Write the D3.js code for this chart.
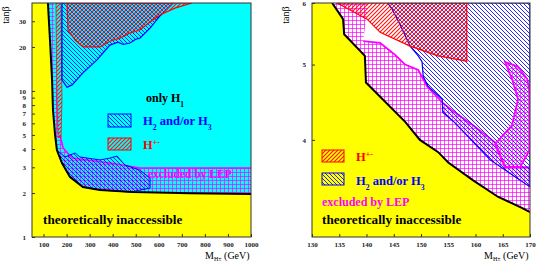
<!DOCTYPE html>
<html>
<head>
<meta charset="utf-8">
<script src="https://cdn.jsdelivr.net/npm/d3@7"></script>
<style>
  body { margin: 0; background: #fff; }
  svg { display: block; }
</style>
</head>
<body>
<svg id="chart" width="545" height="273"></svg>
<script>
// ---- left panel: (M_H+- in GeV, tan beta) pairs ----
const leftXTicks = [100, 200, 300, 400, 500, 600, 700, 800, 900, 1000];
const leftYTicks = [1, 2, 3, 4, 5, 6, 7, 8, 9, 10, 20, 30];

const leftBoundary = [[119, 40], [128, 22.3], [137, 11.9], [141, 7.4], [150, 5.0], [158, 3.94],
  [180, 3.21], [215, 2.57], [271, 2.20], [345, 2.10], [488, 2.03], [735, 1.99], [1000, 1.97]];

const leftLepEdge = [[1000, 2.97], [518, 2.97], [388, 3.21], [224, 3.47], [185, 4.07],
  [171, 5.0], [158, 9.8], [145, 40]];

const leftRedStrip = [[154, 40], [176, 40], [180, 8.66], [176, 4.8], [163, 4.8], [158, 8.66]];

const leftBlueTop = [[180, 40], [180, 11.9], [202, 10.6], [224, 11.0], [271, 13.3], [332, 16.3],
  [388, 20.6], [423, 21.6], [445, 20.8], [475, 21.3], [500, 22.6], [518, 23.0], [562, 26.9],
  [605, 32.6], [662, 40]];

const leftRedTop = [[202, 40], [206, 26.1], [237, 22.3], [271, 20.0], [345, 20.0], [388, 21.9],
  [432, 23.0], [475, 24.9], [518, 26.1], [562, 29.6], [605, 33.1], [670, 36.9], [744, 40]];

const leftBlueLow = [[158, 3.94], [193, 3.53], [237, 3.76], [258, 3.53], [345, 3.37], [388, 3.47],
  [419, 3.58], [453, 3.11], [518, 2.87], [562, 2.53], [562, 2.16], [475, 2.03], [345, 2.10],
  [271, 2.20], [215, 2.57], [180, 3.21]];

// ---- right panel ----
const rightXTicks = [130, 135, 140, 145, 150, 155, 160, 165, 170];
const rightYTicks = [4, 5, 6];

const rightBoundary = [[133.7, 6], [135.7, 5.72], [135.9, 5.47], [139.7, 5.13], [139.9, 4.74],
  [147.1, 4.22], [149.8, 4.0], [153.1, 3.86], [155.0, 3.74], [159.5, 3.55], [164.1, 3.38],
  [168.5, 3.27], [170, 3.23]];

const rightLepEdge = [[170, 3.69], [167.8, 3.69], [165.4, 3.69], [163.6, 3.97], [163.0, 4.0],
  [159.9, 4.16], [156.2, 4.34], [153.9, 4.47], [151.1, 4.69], [149.5, 4.92], [147.1, 5.0],
  [145.2, 5.15], [142.5, 5.33], [139.4, 5.36], [140.3, 6]];

const rightBlue = [[143.9, 6], [170, 6], [170, 3.48], [162.7, 3.77], [156.2, 4.21], [154.0, 4.34],
  [153.9, 4.51], [151.3, 4.69], [150.4, 4.83], [150.2, 5.04], [149.5, 5.13], [148.0, 5.28],
  [146.1, 5.64], [144.7, 5.89]];

const rightRed = [[134.6, 6], [140.1, 5.72], [142.5, 5.50], [148.0, 5.28], [153.1, 5.13],
  [158.4, 5.05], [158.4, 6]];

const rightBlob = [[165.4, 5.04], [167.8, 4.97], [169.5, 4.79], [170, 4.58], [170, 3.89],
  [168.2, 3.69], [165.4, 3.69], [163.6, 3.95], [166.7, 4.18], [167.8, 4.51], [166.7, 4.79]];

const svg = d3.select('#chart')
  .attr('font-family', '"Liberation Serif", "Times New Roman", "DejaVu Serif", serif');
const defs = svg.append('defs');

function pattern(id, d, color, w) {
  defs.append('pattern')
    .attr('id', id)
    .attr('patternUnits', 'userSpaceOnUse')
    .attr('width', 4)
    .attr('height', 4)
    .append('path')
    .attr('d', d)
    .attr('fill', 'none')
    .attr('stroke', color)
    .attr('stroke-width', w);
}
pattern('blueH', 'M-1,-1L5,5M-1,3L1,5M3,-1L5,1', '#1010ff', 0.9);
pattern('redH', 'M-1,5L5,-1M-1,1L1,-1M3,5L5,3', '#ff1010', 1.1);
pattern('magG', 'M0,0.5H4M0.5,0V4', '#ff00ff', 0.7);

function setup(id, x, y) {
  const [x0, x1] = x.range();
  const [yb, yt] = y.range();
  defs.append('clipPath').attr('id', id)
    .append('rect').attr('x', x0).attr('y', yt).attr('width', x1 - x0).attr('height', yb - yt);
  const g = svg.append('g').attr('clip-path', `url(#${id})`);
  g.append('rect').attr('x', x0).attr('y', yt).attr('width', x1 - x0).attr('height', yb - yt)
    .attr('fill', '#ffff00');
  const line = d3.line().x(d => x(d[0])).y(d => y(d[1]));
  return { g, line, poly: pts => line(pts) + 'Z' };
}

function axes(x, y, xTicks, yTicks) {
  const [x0, x1] = x.range();
  const [yb, yt] = y.range();
  const ax = svg.append('g')
    .attr('transform', `translate(0,${yb})`)
    .call(d3.axisBottom(x).tickValues(xTicks).tickSize(-3).tickPadding(5).tickFormat(d3.format('d')));
  const ay = svg.append('g')
    .attr('transform', `translate(${x0},0)`)
    .call(d3.axisLeft(y).tickValues(yTicks).tickSize(-3).tickPadding(6).tickFormat(d3.format('d')));
  [ax, ay].forEach(a => {
    a.attr('font-family', null);
    a.select('.domain').remove();
    a.selectAll('text').attr('font-size', 7).attr('font-weight', 'bold').attr('fill', '#222');
    a.selectAll('line').attr('stroke', '#333');
  });
  svg.append('rect').attr('x', x0).attr('y', yt).attr('width', x1 - x0).attr('height', yb - yt)
    .attr('fill', 'none').attr('stroke', '#333').attr('stroke-width', 1);

  svg.append('text')
    .attr('transform', `translate(${x0 - 23},${yt + 12}) rotate(-90)`)
    .attr('text-anchor', 'middle').attr('font-size', 10)
    .text('tanβ');

  const lbl = svg.append('text').attr('x', x1 - 46).attr('y', yb + 22).attr('font-size', 10);
  lbl.append('tspan').text('M');
  lbl.append('tspan').attr('dy', 2).attr('font-size', 6).text('H±');
  lbl.append('tspan').attr('dy', -2).text(' (GeV)');
}

function subText(g, x, y, parts, color, size) {
  const t = g.append('text').attr('x', x).attr('y', y).attr('fill', color)
    .attr('font-size', size).attr('font-weight', 'bold');
  parts.forEach(([s, shift]) => {
    const sp = t.append('tspan').text(s);
    if (shift) sp.attr('font-size', size * 0.62).attr('baseline-shift', shift);
  });
  return t;
}

// ================= left panel =================
const xL = d3.scaleLinear().domain([50, 1000]).range([32, 251]);
const yL = d3.scaleLog().domain([1, 40]).range([237, 3]);
const L = setup('clipL', xL, yL);

L.g.append('path').attr('d', L.poly(leftBoundary.concat([[1000, 40]]))).attr('fill', '#00ffff');
L.g.append('path').attr('d', L.poly(leftBoundary.concat(leftLepEdge))).attr('fill', 'url(#magG)');
L.g.append('path').attr('d', L.line(leftLepEdge.slice(0, 6)))
  .attr('fill', 'none').attr('stroke', '#ff00ff').attr('stroke-width', 1.6);
L.g.append('path').attr('d', L.poly(leftRedStrip)).attr('fill', 'url(#redH)')
  .attr('stroke', '#ff0000').attr('stroke-width', 0.7);
L.g.append('path').attr('d', L.poly(leftBlueTop)).attr('fill', 'url(#blueH)')
  .attr('stroke', '#0000ff').attr('stroke-width', 1.2);
L.g.append('path').attr('d', L.poly(leftRedTop)).attr('fill', 'url(#redH)')
  .attr('stroke', '#ff0000').attr('stroke-width', 1.2);
L.g.append('path').attr('d', L.poly(leftBlueLow)).attr('fill', 'url(#blueH)')
  .attr('stroke', '#0000ff').attr('stroke-width', 1);
L.g.append('path').attr('d', L.line(leftBoundary))
  .attr('fill', 'none').attr('stroke', '#000').attr('stroke-width', 2);

subText(L.g, 146, 102, [['only H'], ['1', 'sub']], '#000', 12);
L.g.append('rect').attr('x', 108).attr('y', 114).attr('width', 23).attr('height', 13)
  .attr('fill', 'url(#blueH)').attr('stroke', '#0000ff').attr('stroke-width', 1);
subText(L.g, 143, 125, [['H'], ['2', 'sub'], [' and/or H'], ['3', 'sub']], '#0000ff', 12.5);
L.g.append('rect').attr('x', 108).attr('y', 138).attr('width', 23).attr('height', 12)
  .attr('fill', 'url(#redH)').attr('stroke', '#ff0000').attr('stroke-width', 1);
subText(L.g, 143, 149, [['H'], ['+-', 'super']], '#ff0000', 12.5);
subText(L.g, 148, 178, [['excluded by LEP']], '#ff00ff', 11.5);
subText(L.g, 43, 224, [['theoretically inaccessible']], '#000', 13.2);

axes(xL, yL, leftXTicks, leftYTicks);

// ================= right panel =================
const xR = d3.scaleLinear().domain([130, 170]).range([312, 530]);
const yR = d3.scaleLog().domain([3, 6]).range([237, 3]);
const R = setup('clipR', xR, yR);

R.g.append('path').attr('d', R.poly(rightBoundary.concat([[170, 6]]))).attr('fill', '#fff');
R.g.append('path').attr('d', R.poly(rightBoundary.concat(rightLepEdge))).attr('fill', 'url(#magG)');
R.g.append('path').attr('d', R.line(rightLepEdge.slice(0, 14)))
  .attr('fill', 'none').attr('stroke', '#ff00ff').attr('stroke-width', 1.8);
R.g.append('path').attr('d', R.poly(rightBlue)).attr('fill', 'url(#blueH)')
  .attr('stroke', '#0000ff').attr('stroke-width', 1.2);
R.g.append('path').attr('d', R.poly(rightRed)).attr('fill', 'url(#redH)')
  .attr('stroke', '#ff0000').attr('stroke-width', 1.2);
R.g.append('path').attr('d', R.poly(rightBlob)).attr('fill', 'url(#magG)')
  .attr('stroke', '#ff00ff').attr('stroke-width', 1.8);
R.g.append('path').attr('d', R.line(rightBoundary))
  .attr('fill', 'none').attr('stroke', '#000').attr('stroke-width', 2);

R.g.append('rect').attr('x', 322).attr('y', 150).attr('width', 22).attr('height', 12)
  .attr('fill', 'url(#redH)').attr('stroke', '#ff0000').attr('stroke-width', 1);
subText(R.g, 356, 161, [['H'], ['+-', 'super']], '#ff0000', 12.5);
R.g.append('rect').attr('x', 322).attr('y', 173).attr('width', 22).attr('height', 12)
  .attr('fill', 'url(#blueH)').attr('stroke', '#0000ff').attr('stroke-width', 1);
subText(R.g, 356, 185, [['H'], ['2', 'sub'], [' and/or H'], ['3', 'sub']], '#0000ff', 12.5);
subText(R.g, 322, 206, [['excluded by LEP']], '#ff00ff', 12);
subText(R.g, 322, 224, [['theoretically inaccessible']], '#000', 13.2);

axes(xR, yR, rightXTicks, rightYTicks);
</script>
</body>
</html>
